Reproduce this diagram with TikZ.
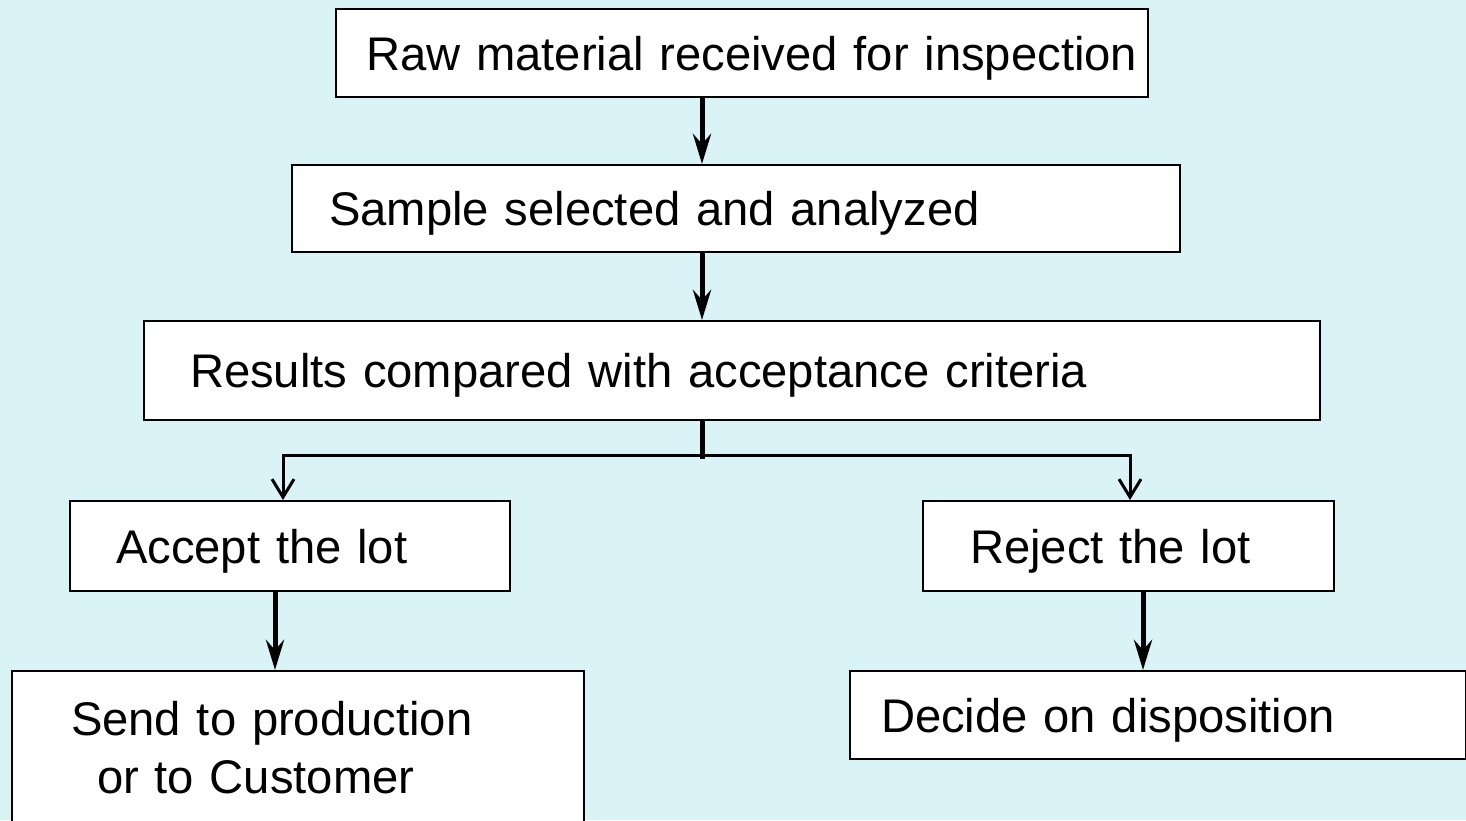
\documentclass[tikz,border=0pt]{standalone}
\usepackage{fontspec}
\setmainfont{Liberation Sans}
\usetikzlibrary{arrows.meta}
\definecolor{paper}{RGB}{218,243,247}

\begin{document}
\begin{tikzpicture}[x=0.5pt, y=-0.5pt,
    box/.style={draw, line width=1pt, fill=white, anchor=north west, align=left,
                font=\fontsize{23.6}{29}\selectfont, inner sep=0pt, text height=17pt, text depth=0pt},
    flow/.style={line width=2.5pt, -{Stealth[length=15pt, width=9pt, inset=5pt]}},
    branch/.style={line width=1.5pt, {Straight Barb[length=9pt, width=11pt]}-{Straight Barb[length=9pt, width=11pt]}}]
            % Background
            \fill[paper] (0,0) rectangle (1466,820);
            \useasboundingbox (0,0) rectangle (1466,820);

            % Draw the boxes
            \node[box, minimum height=44pt, text width=406pt] (raw) at (335,8) {\hspace*{15pt}Raw material received for inspection};
            \node[box, minimum height=43.5pt, text width=444pt] (sample) at (291,164) {\hspace*{18.5pt}Sample selected and analyzed};
            \node[box, minimum height=49.5pt, text width=588pt] (results) at (143,320) {\hspace*{23pt}Results compared with acceptance criteria};
            \node[box, minimum height=45pt, text width=220pt] (accept) at (69,500) {\hspace*{23pt}Accept the lot};
            \node[box, minimum height=45pt, text width=205.5pt] (reject) at (922,500) {\hspace*{23.5pt}Reject the lot};
            \node[box, minimum height=77pt, text width=286pt, text height=, text depth=] (send) at (11,670) {\hspace*{29.5pt}Send to production\\\hspace*{42.5pt}or to Customer};
            \node[box, minimum height=44pt, text width=308pt] (decide) at (849,670) {\hspace*{15.5pt}Decide on disposition};

            % Positions of the arrows
            \coordinate (stem) at (702,0);
            \coordinate (forkL) at (283,455);
            \coordinate (forkR) at (1130,455);
            \coordinate (acc) at (275,0);
            \coordinate (rej) at (1143,0);

            % Draw the arrows
            \draw[flow] (raw.south -| stem) -- (sample.north -| stem);
            \draw[flow] (sample.south -| stem) -- (results.north -| stem);
            \draw[line width=2.5pt] (results.south -| stem) -- ++(0,38);
            \draw[branch] (forkL |- accept.north) |- (forkR) -- (forkR |- reject.north);
            \draw[flow] (accept.south -| acc) -- (send.north -| acc);
            \draw[flow] (reject.south -| rej) -- (decide.north -| rej);

        \end{tikzpicture}
\end{document}
